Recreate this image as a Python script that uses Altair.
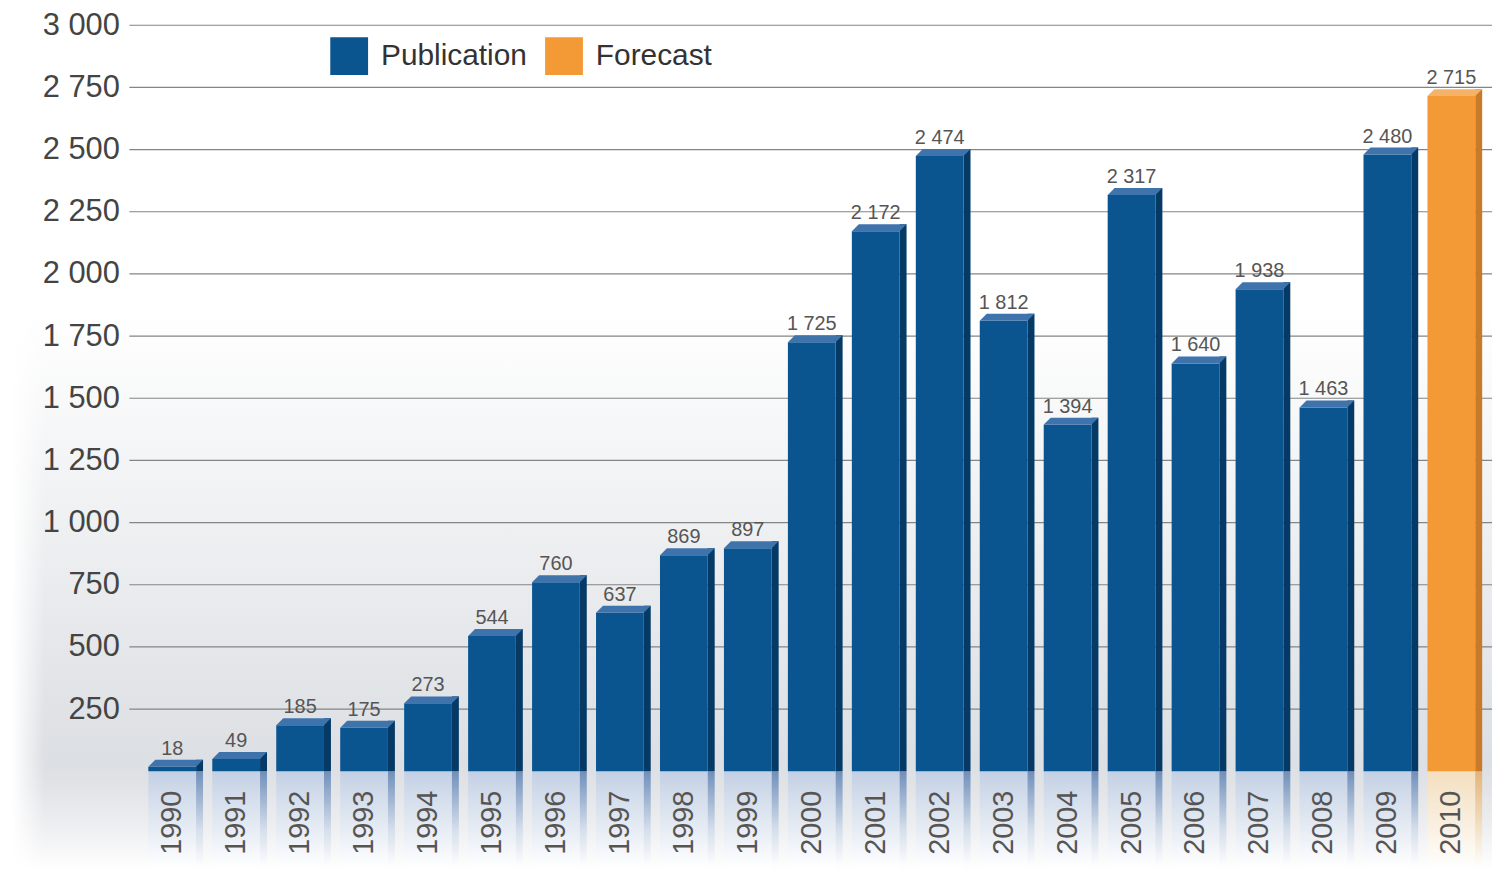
import altair as alt
import pandas as pd

years = [str(y) for y in range(1990, 2011)]
values = [18, 49, 185, 175, 273, 544, 760, 637, 869, 897, 1725, 2172, 2474,
          1812, 1394, 2317, 1640, 1938, 1463, 2480, 2715]
types = ["Publication"] * 20 + ["Forecast"]
labels = [f"{v:,}".replace(",", " ") for v in values]
ytick_values = [250, 500, 750, 1000, 1250, 1500, 1750, 2000, 2250, 2500, 2750, 3000]

df = pd.DataFrame({"year": years, "value": values, "type": types, "label": labels})
ticks_df = pd.DataFrame({"tick": ytick_values})
one = pd.DataFrame({"a": [0]})

W = 1370
H = 850
FONT = "Liberation Sans, Arial, Helvetica, sans-serif"

BLUE, BLUE_SIDE, BLUE_TOP = "#0a5590", "#063a66", "#3f73ac"
ORANGE, ORANGE_SIDE, ORANGE_TOP = "#f39935", "#c77a29", "#f6b266"

xscale = alt.Scale(paddingInner=0.2535, paddingOuter=0.28, align=0.53)
yscale = alt.Scale(domain=[-400, 3000], nice=False, zero=False)
X = alt.X("year:N", scale=xscale, axis=None, sort=years)

is_fc = alt.datum.type == "Forecast"


def vgrad(stops):
    return {"gradient": "linear", "x1": 0, "y1": 0, "x2": 0, "y2": 1,
            "stops": [{"offset": o, "color": c} for o, c in stops]}


bg = alt.Chart(one).mark_rect(
    fill=vgrad([(0, "#ffffff"), (0.34, "#ffffff"), (0.87, "#dcdfe3"),
                (0.9, "#e1e3e6"), (0.95, "#eeeff1"), (1, "#ffffff")])
).encode(x=alt.value(-118), x2=alt.value(W), y=alt.value(0), y2=alt.value(H))

bg_left = alt.Chart(one).mark_rect(
    fill={"gradient": "linear", "x1": 0, "y1": 0, "x2": 1, "y2": 0,
          "stops": [{"offset": 0, "color": "rgba(255,255,255,1)"},
                    {"offset": 1, "color": "rgba(255,255,255,0)"}]}
).encode(x=alt.value(-118), x2=alt.value(-85), y=alt.value(0), y2=alt.value(H))

grid = alt.Chart(ticks_df).mark_rule(color="#858585", strokeWidth=1.2).encode(
    y=alt.Y("tick:Q", scale=yscale,
            axis=alt.Axis(values=ytick_values, grid=False, domain=False, ticks=False,
                          labelPadding=10, labelFont=FONT, labelFontSize=31,
                          labelColor="#444444", title=None, zindex=2,
                          labelExpr="replace(format(datum.value, ',d'), ',', ' ')")),
)

base = alt.Chart(df)

refl_pub = base.transform_filter(alt.datum.type == "Publication").mark_bar(
    fill=vgrad([(0, "#c3d0e4"), (0.55, "#e4eaf3"), (1, "#ffffff")])
).encode(x=X, y=alt.datum(-390), y2=alt.datum(0))

refl_pub_side = base.transform_filter(alt.datum.type == "Publication").mark_bar(
    size=7, xOffset=27.5,
    fill=vgrad([(0, "#6f8fba"), (0.6, "#d5deeb"), (1, "#ffffff")])
).encode(x=X, y=alt.datum(-390), y2=alt.datum(0))

refl_fc = base.transform_filter(alt.datum.type == "Forecast").mark_bar(
    fill=vgrad([(0, "#f4dfbf"), (0.55, "#f9efe0"), (1, "#ffffff")])
).encode(x=X, y=alt.datum(-390), y2=alt.datum(0))

refl_fc_side = base.transform_filter(alt.datum.type == "Forecast").mark_bar(
    size=7, xOffset=27.5,
    fill=vgrad([(0, "#e2b47a"), (0.6, "#f3e2c9"), (1, "#ffffff")])
).encode(x=X, y=alt.datum(-390), y2=alt.datum(0))

side = base.mark_bar(size=7, xOffset=27.5, yOffset=-7).encode(
    x=X,
    y=alt.Y("value:Q"),
    y2=alt.datum(0),
    fill=alt.condition(is_fc, alt.value(ORANGE_SIDE), alt.value(BLUE_SIDE)),
)

front = base.mark_bar(strokeWidth=0).encode(
    x=X,
    y=alt.Y("value:Q"),
    y2=alt.datum(0),
    color=alt.Color(
        "type:N",
        scale=alt.Scale(domain=["Publication", "Forecast"], range=[BLUE, ORANGE]),
        legend=alt.Legend(
            title=None, orient="none", legendX=202, legendY=12,
            direction="horizontal", symbolType="square", symbolSize=1444,
            symbolStrokeWidth=0, symbolOpacity=1, labelFont=FONT,
            labelFontSize=30, labelColor="#333333", labelOffset=13,
            columnPadding=18, labelLimit=400, padding=0,
        ),
    ),
)

TOP_PATH = "M -0.857 0 L 0.857 0 L 1.107 -0.25 L -0.607 -0.25 Z"
top = base.mark_point(shape=TOP_PATH, size=3136, filled=True, opacity=1,
                      strokeWidth=0).encode(
    x=X,
    y=alt.Y("value:Q"),
    fill=alt.condition(is_fc, alt.value(ORANGE_TOP), alt.value(BLUE_TOP)),
)

vlabels = base.mark_text(dy=-12, baseline="alphabetic", font=FONT, fontSize=20,
                         color="#555555").encode(
    x=X, y=alt.Y("value:Q"), text="label:N"
)

ylabels = base.mark_text(angle=270, align="left", baseline="middle", font=FONT,
                         fontSize=29, color="#555555").encode(
    x=X, y=alt.datum(-336), text="year:N"
)

chart = alt.layer(
    bg, bg_left, grid, refl_pub, refl_pub_side, refl_fc, refl_fc_side,
    side, front, top, vlabels, ylabels
).properties(
    width=W, height=H,
    background="#ffffff",
    autosize=alt.AutoSizeParams(type="none"),
    padding={"left": 122, "top": 15, "right": 8, "bottom": 3},
).configure_view(stroke=None)

chart.save("out.html", embed_options={"renderer": "svg", "actions": False})
